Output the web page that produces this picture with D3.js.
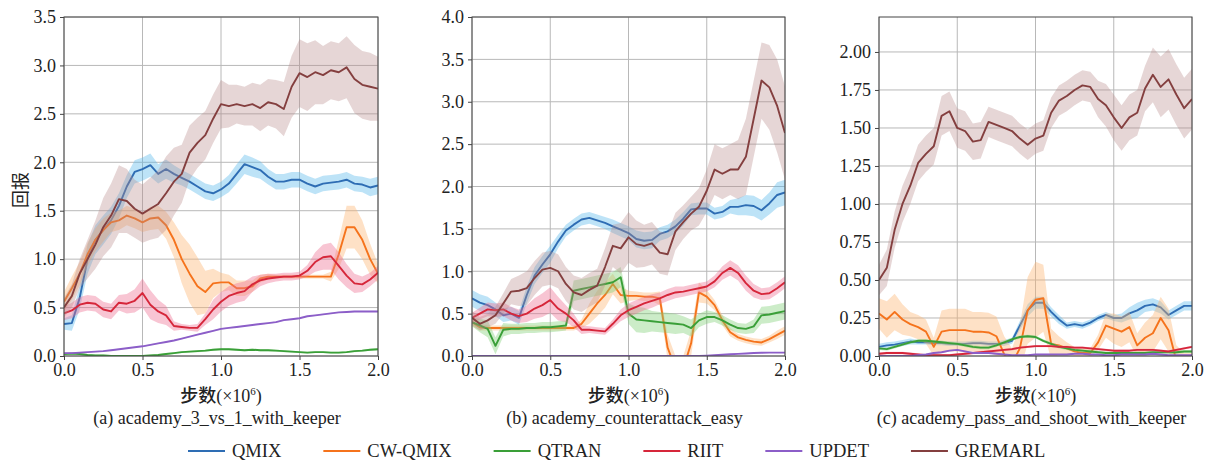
<!DOCTYPE html>
<html>
<head>
<meta charset="utf-8">
<script src="https://cdn.jsdelivr.net/npm/d3@7"></script>
<style>
body { margin: 0; background: #fff; }
svg text, svg tspan { font-family: "Liberation Serif", "Times New Roman", "DejaVu Serif", serif; fill: #222; }
</style>
</head>
<body>
<div id="chart"></div>
<script>
// series names, colours
var seriesNames = ["QMIX", "CW-QMIX", "QTRAN", "RIIT", "UPDET", "GREMARL"];
var lineColors = ["#2e6db4", "#f5731c", "#3a9f38", "#d6263a", "#8c5ec8", "#843f3f"];
var bandColors = ["#5bb8ec", "#fcb370", "#7fcf76", "#ee6f90", "#a88bd6", "#b88a8a"];
var bandOpacity = [0.4, 0.4, 0.4, 0.4, 0.3, 0.35];

var subtitles = ["(a) academy_3_vs_1_with_keeper", "(b) academy_counterattack_easy", "(c) academy_pass_and_shoot_with_keeper"];
var xTicks = [0, 0.5, 1.0, 1.5, 2.0];
var yTicks1 = [0, 0.5, 1.0, 1.5, 2.0, 2.5, 3.0, 3.5];
var yTicks2 = [0, 0.5, 1.0, 1.5, 2.0, 2.5, 3.0, 3.5, 4.0];
var yTicks3 = [0, 0.25, 0.5, 0.75, 1.0, 1.25, 1.5, 1.75, 2.0];

// steps 0..2 (x1e6), 0.05 apart, 41 values per series
// ---- (a) academy_3_vs_1_with_keeper
var a_qmix = [0.33,0.34,0.6,1.0,1.2,1.3,1.4,1.55,1.75,1.9,1.93,1.97,1.88,1.93,1.88,1.84,1.8,1.75,1.7,1.68,1.72,1.78,1.88,1.98,1.95,1.92,1.85,1.8,1.8,1.82,1.82,1.78,1.75,1.78,1.79,1.8,1.82,1.78,1.77,1.74,1.76];
var a_qmix_s = [0.06,0.08,0.12,0.15,0.15,0.15,0.14,0.13,0.12,0.12,0.12,0.12,0.1,0.1,0.09,0.08,0.08,0.08,0.08,0.08,0.08,0.09,0.1,0.1,0.1,0.09,0.08,0.08,0.08,0.08,0.08,0.08,0.08,0.08,0.08,0.08,0.08,0.08,0.08,0.09,0.09];
var a_cw = [0.56,0.7,0.85,1.05,1.2,1.3,1.38,1.4,1.45,1.42,1.38,1.42,1.43,1.35,1.2,1.0,0.85,0.72,0.66,0.75,0.76,0.76,0.7,0.7,0.72,0.8,0.82,0.82,0.82,0.82,0.82,0.82,0.82,0.82,0.82,1.05,1.33,1.33,1.2,1.0,0.85];
var a_cw_s = [0.1,0.12,0.12,0.12,0.12,0.12,0.1,0.1,0.1,0.1,0.1,0.12,0.12,0.14,0.18,0.25,0.3,0.3,0.22,0.15,0.1,0.08,0.08,0.08,0.06,0.04,0.03,0.02,0.02,0.02,0.02,0.02,0.02,0.02,0.05,0.15,0.22,0.22,0.2,0.16,0.1];
var a_qtran = [0.02,0.025,0.02,0.01,0.005,0.005,0,0,0,0,0,0.005,0.01,0.02,0.03,0.04,0.045,0.05,0.055,0.065,0.07,0.07,0.065,0.06,0.065,0.06,0.06,0.055,0.05,0.045,0.04,0.035,0.04,0.04,0.035,0.035,0.04,0.05,0.055,0.065,0.07];
var a_qtran_s = [0.01,0.01,0.01,0.01,0.01,0.01,0.01,0.01,0.01,0.01,0.01,0.01,0.01,0.01,0.01,0.01,0.01,0.01,0.01,0.01,0.01,0.01,0.01,0.01,0.01,0.01,0.01,0.01,0.01,0.01,0.01,0.01,0.01,0.01,0.01,0.01,0.01,0.01,0.01,0.01,0.01];
var a_riit = [0.44,0.47,0.53,0.55,0.54,0.48,0.46,0.55,0.54,0.57,0.65,0.53,0.46,0.42,0.31,0.3,0.29,0.29,0.38,0.48,0.56,0.62,0.65,0.67,0.74,0.78,0.8,0.81,0.82,0.82,0.83,0.88,0.97,1.02,1.03,0.93,0.83,0.75,0.74,0.79,0.86];
var a_riit_s = [0.07,0.08,0.08,0.08,0.08,0.08,0.08,0.08,0.1,0.12,0.15,0.15,0.12,0.1,0.05,0.03,0.03,0.04,0.06,0.1,0.1,0.1,0.1,0.1,0.08,0.06,0.05,0.04,0.04,0.04,0.04,0.06,0.1,0.13,0.14,0.14,0.12,0.1,0.08,0.07,0.07];
var a_updet = [0.03,0.03,0.035,0.04,0.045,0.05,0.06,0.07,0.08,0.09,0.1,0.115,0.13,0.145,0.16,0.18,0.2,0.22,0.24,0.26,0.28,0.29,0.3,0.31,0.32,0.33,0.34,0.35,0.37,0.38,0.39,0.41,0.42,0.43,0.44,0.45,0.455,0.46,0.46,0.46,0.46];
var a_updet_s = [0.006,0.006,0.006,0.006,0.006,0.006,0.006,0.006,0.006,0.006,0.006,0.006,0.006,0.006,0.006,0.006,0.006,0.006,0.006,0.006,0.006,0.006,0.006,0.006,0.006,0.006,0.006,0.006,0.006,0.006,0.006,0.006,0.006,0.006,0.006,0.006,0.006,0.006,0.006,0.006,0.006];
var a_gremarl = [0.5,0.62,0.85,1.0,1.15,1.33,1.45,1.62,1.6,1.52,1.47,1.52,1.57,1.68,1.8,1.88,2.1,2.2,2.28,2.45,2.6,2.58,2.6,2.58,2.6,2.56,2.62,2.6,2.55,2.78,2.92,2.88,2.93,2.9,2.95,2.93,2.98,2.86,2.8,2.78,2.76];
var a_gremarl_s = [0.1,0.12,0.15,0.2,0.25,0.3,0.33,0.35,0.33,0.3,0.3,0.32,0.35,0.38,0.35,0.3,0.28,0.26,0.25,0.25,0.25,0.22,0.2,0.2,0.22,0.24,0.24,0.25,0.28,0.32,0.35,0.35,0.33,0.3,0.3,0.3,0.32,0.35,0.35,0.35,0.33];

// ---- (b) academy_counterattack_easy
var b_qmix = [0.68,0.63,0.6,0.55,0.48,0.5,0.45,0.72,0.95,1.08,1.2,1.35,1.48,1.55,1.61,1.63,1.6,1.57,1.53,1.49,1.45,1.38,1.36,1.37,1.44,1.47,1.53,1.62,1.73,1.74,1.74,1.68,1.7,1.76,1.76,1.78,1.77,1.72,1.8,1.9,1.93];
var b_qmix_s = [0.1,0.1,0.1,0.08,0.08,0.08,0.08,0.1,0.1,0.1,0.1,0.08,0.07,0.07,0.07,0.07,0.07,0.07,0.08,0.08,0.08,0.1,0.1,0.1,0.08,0.08,0.08,0.08,0.07,0.07,0.07,0.07,0.07,0.08,0.1,0.12,0.12,0.12,0.13,0.15,0.15];
var b_cw = [0.4,0.34,0.33,0.33,0.33,0.33,0.33,0.33,0.33,0.33,0.33,0.33,0.33,0.33,0.38,0.5,0.62,0.72,0.85,0.72,0.71,0.71,0.7,0.7,0.68,0.1,-0.15,-0.15,0.15,0.75,0.7,0.6,0.42,0.28,0.22,0.19,0.17,0.16,0.2,0.25,0.3];
var b_cw_s = [0.05,0.04,0.03,0.03,0.03,0.03,0.03,0.03,0.03,0.03,0.03,0.03,0.03,0.03,0.05,0.12,0.15,0.15,0.12,0.1,0.06,0.05,0.05,0.05,0.08,0.15,0.15,0.15,0.15,0.12,0.08,0.06,0.06,0.05,0.04,0.04,0.04,0.04,0.04,0.05,0.05];
var b_qtran = [0.4,0.36,0.32,0.12,0.31,0.32,0.32,0.33,0.33,0.34,0.34,0.35,0.36,0.77,0.79,0.81,0.83,0.85,0.87,0.93,0.5,0.43,0.42,0.41,0.4,0.39,0.38,0.37,0.33,0.42,0.46,0.46,0.42,0.37,0.33,0.32,0.35,0.48,0.49,0.51,0.53];
var b_qtran_s = [0.05,0.08,0.1,0.1,0.08,0.06,0.06,0.06,0.06,0.06,0.06,0.06,0.06,0.12,0.12,0.12,0.12,0.12,0.12,0.12,0.12,0.15,0.15,0.12,0.12,0.12,0.12,0.1,0.1,0.08,0.08,0.06,0.06,0.06,0.06,0.06,0.08,0.1,0.1,0.1,0.1];
var b_riit = [0.45,0.5,0.55,0.54,0.55,0.5,0.47,0.5,0.56,0.6,0.66,0.56,0.5,0.42,0.31,0.31,0.3,0.29,0.38,0.48,0.54,0.58,0.62,0.65,0.68,0.72,0.75,0.76,0.78,0.8,0.82,0.88,0.98,1.04,0.98,0.86,0.77,0.73,0.74,0.8,0.87];
var b_riit_s = [0.06,0.07,0.08,0.08,0.08,0.08,0.08,0.1,0.12,0.14,0.15,0.14,0.1,0.08,0.05,0.04,0.04,0.04,0.05,0.07,0.08,0.08,0.08,0.08,0.07,0.07,0.07,0.06,0.06,0.06,0.06,0.07,0.08,0.09,0.09,0.09,0.08,0.07,0.07,0.07,0.07];
var b_updet = [0,0,0,0,0,0,0,0,0,0,0,0,0,0,0,0,0,0,0,0,0,0,0,0,0,0,0,0,0,0,0.005,0.01,0.015,0.02,0.025,0.03,0.035,0.038,0.04,0.04,0.04];
var b_updet_s = [0.004,0.004,0.004,0.004,0.004,0.004,0.004,0.004,0.004,0.004,0.004,0.004,0.004,0.004,0.004,0.004,0.004,0.004,0.004,0.004,0.004,0.004,0.004,0.004,0.004,0.004,0.004,0.004,0.004,0.004,0.004,0.004,0.004,0.004,0.004,0.004,0.004,0.004,0.004,0.004,0.004];
var b_gremarl = [0.45,0.38,0.42,0.48,0.62,0.76,0.77,0.8,0.92,1.02,1.04,1.0,0.85,0.75,0.72,0.78,0.83,1.05,1.3,1.27,1.4,1.32,1.3,1.33,1.22,1.2,1.47,1.58,1.68,1.76,1.95,2.2,2.15,2.2,2.2,2.35,2.8,3.25,3.17,2.95,2.63];
var b_gremarl_s = [0.08,0.08,0.08,0.1,0.12,0.15,0.18,0.2,0.2,0.2,0.2,0.2,0.2,0.2,0.2,0.2,0.2,0.22,0.25,0.3,0.3,0.28,0.25,0.25,0.25,0.25,0.22,0.2,0.2,0.22,0.25,0.3,0.3,0.3,0.35,0.45,0.45,0.45,0.5,0.55,0.55];

// ---- (c) academy_pass_and_shoot_with_keeper
var c_qmix = [0.06,0.07,0.075,0.085,0.095,0.09,0.09,0.085,0.085,0.08,0.08,0.08,0.085,0.085,0.08,0.08,0.085,0.1,0.2,0.3,0.35,0.35,0.29,0.24,0.2,0.21,0.2,0.22,0.25,0.27,0.25,0.25,0.28,0.3,0.33,0.34,0.32,0.27,0.3,0.33,0.33];
var c_qmix_s = [0.02,0.02,0.02,0.02,0.02,0.015,0.015,0.015,0.015,0.015,0.015,0.015,0.015,0.015,0.015,0.015,0.02,0.02,0.03,0.04,0.04,0.04,0.03,0.03,0.02,0.02,0.02,0.02,0.02,0.02,0.02,0.03,0.04,0.05,0.04,0.04,0.04,0.03,0.03,0.03,0.03];
var c_cw = [0.28,0.24,0.29,0.24,0.21,0.19,0.16,0.06,0.16,0.17,0.17,0.17,0.16,0.16,0.155,0.13,0.01,-0.05,0.05,0.3,0.37,0.38,0.08,0.07,0.05,0.03,0.02,0.02,0.09,0.2,0.18,0.16,0.19,0.07,0.12,0.15,0.25,0.17,-0.03,-0.03,-0.03];
var c_cw_s = [0.1,0.12,0.12,0.1,0.08,0.08,0.08,0.06,0.14,0.14,0.14,0.14,0.13,0.13,0.13,0.13,0.12,0.1,0.15,0.22,0.25,0.22,0.1,0.06,0.04,0.03,0.03,0.03,0.05,0.08,0.1,0.1,0.1,0.08,0.1,0.12,0.14,0.14,0.1,0.05,0.05];
var c_qtran = [0.05,0.045,0.06,0.075,0.09,0.1,0.1,0.095,0.09,0.085,0.08,0.07,0.06,0.055,0.055,0.07,0.09,0.11,0.125,0.13,0.125,0.1,0.08,0.06,0.05,0.04,0.035,0.03,0.025,0.02,0.02,0.02,0.02,0.02,0.02,0.025,0.025,0.025,0.025,0.03,0.03];
var c_qtran_s = [0.01,0.01,0.01,0.01,0.01,0.01,0.01,0.01,0.01,0.01,0.01,0.01,0.01,0.01,0.01,0.01,0.01,0.01,0.01,0.01,0.01,0.01,0.01,0.01,0.01,0.01,0.01,0.01,0.01,0.01,0.01,0.01,0.01,0.01,0.01,0.01,0.01,0.01,0.01,0.01,0.01];
var c_riit = [0.015,0.02,0.02,0.02,0.015,0.01,0.005,0.005,0.005,0.005,0.01,0.015,0.02,0.025,0.03,0.035,0.04,0.045,0.055,0.06,0.065,0.065,0.065,0.06,0.06,0.055,0.055,0.05,0.045,0.04,0.035,0.035,0.035,0.04,0.04,0.04,0.035,0.03,0.04,0.05,0.06];
var c_riit_s = [0.008,0.008,0.008,0.008,0.008,0.008,0.008,0.008,0.008,0.008,0.008,0.008,0.008,0.008,0.008,0.008,0.008,0.008,0.008,0.008,0.008,0.008,0.008,0.008,0.008,0.008,0.008,0.008,0.008,0.008,0.008,0.008,0.008,0.008,0.008,0.008,0.008,0.008,0.008,0.008,0.008];
var c_updet = [0,0,0,0,0,0.005,0.01,0.02,0.025,0.035,0.04,0.03,0.02,0.02,0.02,0.015,0.01,0.005,0.005,0.005,0.01,0.01,0.01,0.01,0.01,0.015,0.015,0.01,0.01,0.005,0.005,0.01,0.01,0.01,0.01,0.015,0.01,0.005,0.005,0.005,0.005];
var c_updet_s = [0.005,0.005,0.005,0.005,0.005,0.005,0.005,0.005,0.005,0.005,0.005,0.005,0.005,0.005,0.005,0.005,0.005,0.005,0.005,0.005,0.005,0.005,0.005,0.005,0.005,0.005,0.005,0.005,0.005,0.005,0.005,0.005,0.005,0.005,0.005,0.005,0.005,0.005,0.005,0.005,0.005];
var c_gremarl = [0.5,0.58,0.83,1.0,1.12,1.27,1.33,1.38,1.58,1.61,1.5,1.48,1.41,1.42,1.54,1.52,1.5,1.48,1.43,1.39,1.43,1.45,1.6,1.68,1.71,1.75,1.78,1.77,1.69,1.65,1.57,1.5,1.57,1.6,1.76,1.85,1.77,1.82,1.72,1.63,1.69];
var c_gremarl_s = [0.1,0.12,0.12,0.12,0.12,0.12,0.12,0.12,0.13,0.13,0.13,0.13,0.12,0.12,0.1,0.1,0.1,0.1,0.1,0.1,0.1,0.1,0.1,0.1,0.1,0.1,0.1,0.1,0.12,0.14,0.15,0.15,0.15,0.15,0.15,0.18,0.2,0.2,0.2,0.2,0.2];

var panels = [
    {left: 64, right: 378, ymax: 3.5, ticks: yTicks1, fmt: ".1f",
     means: [a_qmix, a_cw, a_qtran, a_riit, a_updet, a_gremarl],
     spreads: [a_qmix_s, a_cw_s, a_qtran_s, a_riit_s, a_updet_s, a_gremarl_s]},
    {left: 472, right: 785, ymax: 4.0, ticks: yTicks2, fmt: ".1f",
     means: [b_qmix, b_cw, b_qtran, b_riit, b_updet, b_gremarl],
     spreads: [b_qmix_s, b_cw_s, b_qtran_s, b_riit_s, b_updet_s, b_gremarl_s]},
    {left: 879, right: 1192, ymax: 2.23, ticks: yTicks3, fmt: ".2f",
     means: [c_qmix, c_cw, c_qtran, c_riit, c_updet, c_gremarl],
     spreads: [c_qmix_s, c_cw_s, c_qtran_s, c_riit_s, c_updet_s, c_gremarl_s]}
];

var plotTop = 17, plotBottom = 356;
var serif = '"Liberation Serif", "Times New Roman", serif';
var cjk = '"Noto Sans CJK SC", sans-serif';

var svg = d3.select("#chart").append("svg").attr("width", 1209).attr("height", 461);

panels.forEach(function(p, k) {
    var x = d3.scaleLinear().domain([0, 2]).range([p.left, p.right]);
    var y = d3.scaleLinear().domain([0, p.ymax]).range([plotBottom, plotTop]);
    var g = svg.append("g");

    g.append("clipPath").attr("id", "clip" + k).append("rect")
        .attr("x", p.left).attr("y", plotTop).attr("width", p.right - p.left).attr("height", plotBottom - plotTop);

    // grid
    g.selectAll(".gx").data(xTicks).enter().append("line")
        .attr("x1", d => x(d)).attr("x2", d => x(d)).attr("y1", plotTop).attr("y2", plotBottom)
        .attr("stroke", "#b8b8b8").attr("stroke-width", 1);
    g.selectAll(".gy").data(p.ticks).enter().append("line")
        .attr("x1", p.left).attr("x2", p.right).attr("y1", d => y(d)).attr("y2", d => y(d))
        .attr("stroke", "#b8b8b8").attr("stroke-width", 1);

    var plot = g.append("g").attr("clip-path", "url(#clip" + k + ")");
    p.means.forEach(function(m, s) {
        var sp = p.spreads[s];
        var pts = m.map(function(v, i) { return {x: i * 0.05, v: v, s: sp[i]}; });
        plot.append("path").datum(pts)
            .attr("d", d3.area().x(d => x(d.x)).y0(d => y(d.v - d.s)).y1(d => y(d.v + d.s)))
            .attr("fill", bandColors[s]).attr("fill-opacity", bandOpacity[s]);
        plot.append("path").datum(pts)
            .attr("d", d3.line().x(d => x(d.x)).y(d => y(d.v)))
            .attr("fill", "none").attr("stroke", lineColors[s]).attr("stroke-width", 1.9)
            .attr("stroke-linejoin", "round");
    });

    // axes
    var xa = g.append("g").attr("transform", "translate(0," + plotBottom + ")")
        .call(d3.axisBottom(x).tickValues(xTicks).tickFormat(d3.format(".1f")).tickSize(4).tickPadding(3));
    var ya = g.append("g").attr("transform", "translate(" + p.left + ",0)")
        .call(d3.axisLeft(y).tickValues(p.ticks).tickFormat(d3.format(p.fmt)).tickSize(4).tickPadding(4));
    [xa, ya].forEach(function(a) {
        a.attr("font-family", null).attr("font-size", null);
        a.select(".domain").remove();
        a.selectAll("line").attr("stroke", "#444");
        a.selectAll("text").style("font-family", serif).style("font-size", "18px").attr("fill", "#222");
    });

    g.append("rect").attr("x", p.left).attr("y", plotTop).attr("width", p.right - p.left).attr("height", plotBottom - plotTop)
        .attr("fill", "none").attr("stroke", "#444").attr("stroke-width", 1);

    var cx = (p.left + p.right) / 2;
    var xl = g.append("text").attr("x", cx).attr("y", 402).attr("text-anchor", "middle")
        .style("font-family", serif).style("font-size", "18px");
    xl.append("tspan").style("font-family", cjk).style("font-weight", "500").text("步数");
    xl.append("tspan").text("(×10");
    xl.append("tspan").style("font-size", "11px").attr("dy", -7).text("6");
    xl.append("tspan").attr("dy", 7).text(")");

    g.append("text").attr("x", cx - 4).attr("y", 424).attr("text-anchor", "middle")
        .style("font-family", serif).style("font-size", "18px").text(subtitles[k]);
});

svg.append("text").attr("transform", "translate(19,190) rotate(-90)")
    .attr("text-anchor", "middle").attr("dominant-baseline", "central")
    .style("font-family", cjk).style("font-size", "18px").text("回报");

// legend
var lx = 188;
seriesNames.forEach(function(name, i) {
    svg.append("line").attr("x1", lx).attr("x2", lx + 37).attr("y1", 451).attr("y2", 451)
        .attr("stroke", lineColors[i]).attr("stroke-width", 2);
    var t = svg.append("text").attr("x", lx + 44).attr("y", 457)
        .style("font-family", serif).style("font-size", "18.5px").text(name);
    lx += 44 + t.node().getComputedTextLength() + 42;
});
</script>
</body>
</html>
